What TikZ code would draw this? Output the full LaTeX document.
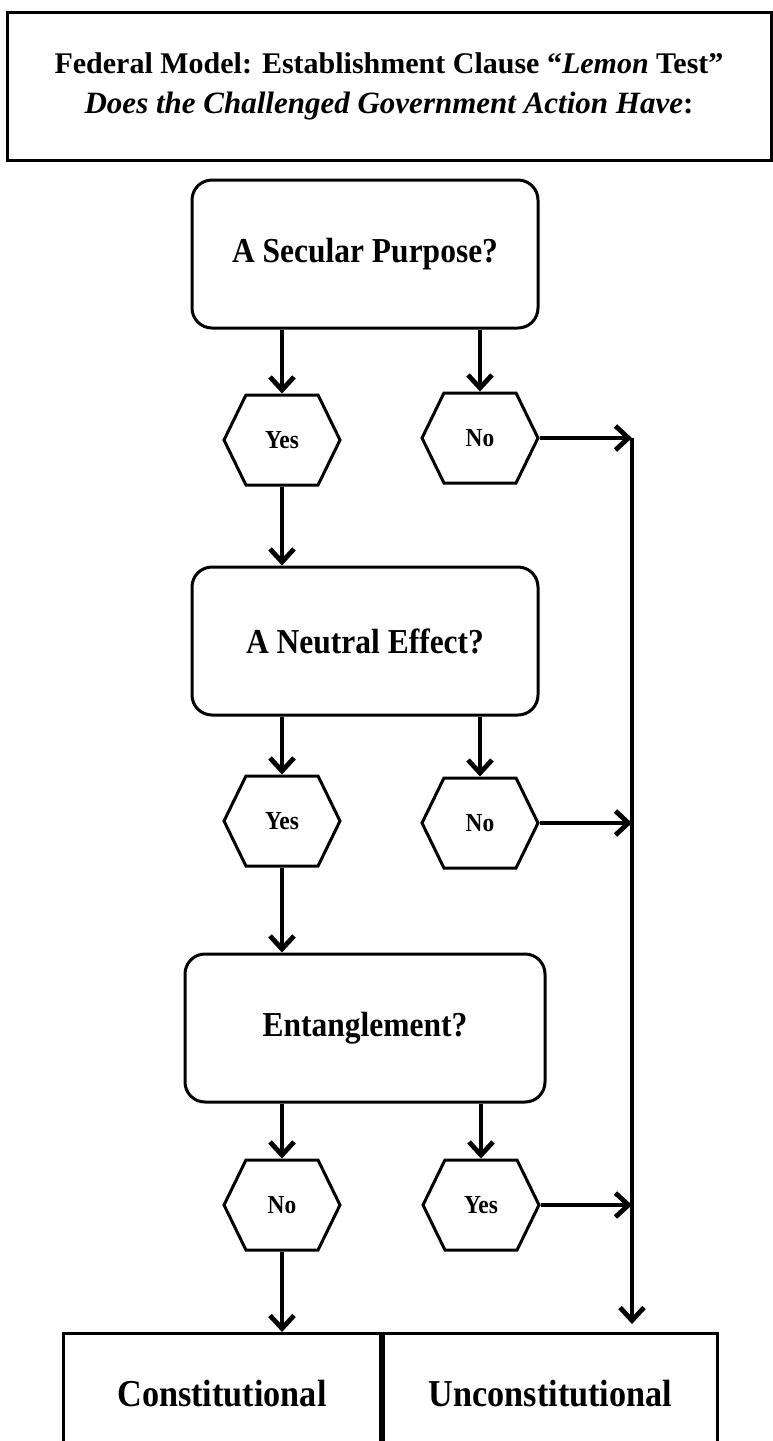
\documentclass[tikz,border=0pt]{standalone}
\usepackage{fontspec}
\setmainfont{Liberation Serif}
\newfontfamily\narrowfont{Liberation Serif}[FakeStretch=0.9]
\usetikzlibrary{arrows.meta, positioning, shapes.symbols}
\tikzset{
    >={Straight Barb[length=13pt, width=24pt]}, % open arrow heads
    question/.style={draw, line width=3pt, rounded corners=20pt, minimum width=346pt, minimum height=148pt,
        font=\narrowfont\bfseries\fontsize{35}{40}\selectfont},
    answer/.style={draw, line width=3pt, signal, signal to=west and east, signal pointer angle=128,
        minimum width=116pt, minimum height=90pt, inner sep=0pt, font=\narrowfont\bfseries\fontsize{26}{30}\selectfont},
    verdict/.style={draw, line width=3pt, minimum height=120pt, font=\narrowfont\bfseries\fontsize{38}{44}\selectfont},
    flow/.style={->, line width=4.8pt},
}
\begin{document}
\begin{tikzpicture}[x=1pt, y=-1pt, node distance=387pt]
    \useasboundingbox (0,0) rectangle (773,1441);
    \clip (0,0) rectangle (773,1441);
    % heading
    \node[draw, line width=3pt, minimum width=764pt, minimum height=148pt, align=center,
        font=\bfseries\fontsize{30}{40}\selectfont] (head) at (389,86)
        {Federal Model: Establishment Clause ``\textit{Lemon} Test''\\
         {\fontsize{31}{40}\selectfont\textit{Does the Challenged Government Action Have}:}};
    % the three questions
    \node[question] (q1) at (365,254) {A Secular Purpose?};
    \node[question, below of=q1] (q2) {A Neutral Effect?};
    \node[question, below of=q2, minimum width=360pt] (q3) {Entanglement?};
    % answers
    \node[answer, below of=q1, node distance=186pt, xshift=-83pt] (y1) {Yes};
    \node[answer, below of=q1, node distance=184pt, xshift=115pt] (n1) {No};
    \node[answer, below of=q2, node distance=180pt, xshift=-83pt] (y2) {Yes};
    \node[answer, below of=q2, node distance=182pt, xshift=115pt] (n2) {No};
    \node[answer, below of=q3, node distance=177pt, xshift=-83pt] (n3) {No};
    \node[answer, below of=q3, node distance=177pt, xshift=116pt] (y3) {Yes};
    % outcomes
    \node[verdict, anchor=north west, minimum width=317pt] (con) at (62,1332) {Constitutional};
    \node[verdict, anchor=north west, minimum width=334pt] (unc) at (con.north east) {Unconstitutional};
    \coordinate (rail) at (632,438);
    % connectors
    \draw[flow] (q1.south -| y1) -- (y1.north);
    \draw[flow] (q1.south -| n1) -- (n1.north);
    \draw[flow] (y1.south) -- (y1.south |- q2.north);
    \draw[flow] (q2.south -| y2) -- (y2.north);
    \draw[flow] (q2.south -| n2) -- (n2.north);
    \draw[flow] (y2.south) -- (y2.south |- q3.north);
    \draw[flow] (q3.south -| n3) -- (n3.north);
    \draw[flow] (q3.south -| y3) -- (y3.north);
    \draw[flow] (n3.south) -- (n3.south |- con.north);
    \draw[flow] (n1.east) -- (n1.east -| rail);
    \draw[flow] (n2.east) -- (n2.east -| rail);
    \draw[flow] (y3.east) -- (y3.east -| rail);
    \draw[flow, shorten >=8pt] (rail) -- (rail |- unc.north);
\end{tikzpicture}
\end{document}
